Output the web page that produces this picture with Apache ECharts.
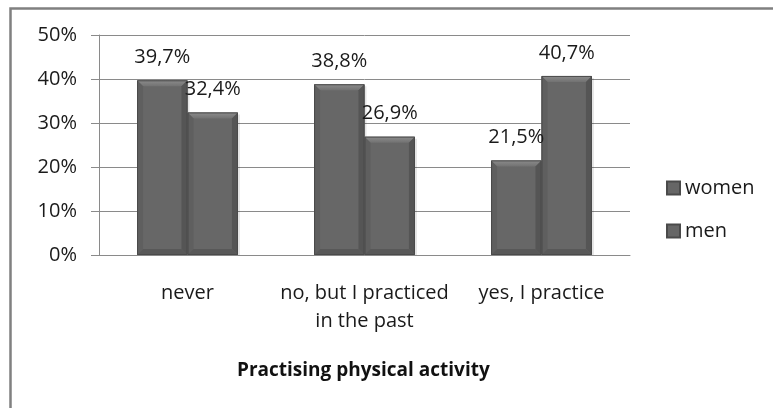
<!DOCTYPE html>
<html>
<head>
<meta charset="utf-8">
<script src="https://cdn.jsdelivr.net/npm/echarts@6/dist/echarts.min.js"></script>
<style>
  html, body { margin: 0; padding: 0; background: #fff; }
  #chart { width: 773px; height: 408px; }
</style>
</head>
<body>
<div id="chart"></div>
<script>
// Categories on the x axis
const categories = ['never', 'no, but I practiced\nin the past', 'yes, I practice'];
// Share of respondents per answer (%)
const women = [39.7, 38.8, 21.5];
const men = [32.4, 26.9, 40.7];
// Axis setup
const yTicks = [0, 10, 20, 30, 40, 50];
const chartTitle = 'Practising physical activity';

const FONT = 'Open Sans';
const CATEGORY_GAP = 0.43;   // fraction of each band left empty
const BEVEL = 6;             // bevel depth in px

function pct(v) {
  return v.toFixed(1).replace('.', ',') + '%';
}

// Bevelled bar: body, four bevel facets, outline, soft shadow and value label.
// slot = position of the series inside a category group (0 = left, 1 = right).
function bevelBar(slot) {
  return function (params, api) {
    const i = api.value(0);
    const v = api.value(1);
    const band = api.size([1, 0])[0];
    const bw = band * (1 - CATEGORY_GAP) / 2;
    const base = api.coord([i, 0]);
    const top = api.coord([i, v]);
    const x0 = base[0] - bw + slot * bw;
    const x1 = x0 + bw;
    const y0 = top[1];
    const y1 = base[1];
    const b = Math.min(BEVEL, (y1 - y0) / 2);
    return {
      type: 'group',
      children: [
        { type: 'rect', shape: { x: x0 + 2, y: y0 + 2, width: bw, height: y1 - y0 - 2 },
          style: { fill: 'rgba(0,0,0,0.10)' }, z2: 0 },
        { type: 'rect', shape: { x: x0, y: y0, width: bw, height: y1 - y0 },
          style: { fill: '#676767' }, z2: 1 },
        { type: 'polygon', shape: { points: [[x0, y0], [x1, y0], [x1 - b, y0 + b], [x0 + b, y0 + b]] },
          style: { fill: { type: 'linear', x: 0, y: 0, x2: 0, y2: 1,
            colorStops: [{ offset: 0, color: '#8c8c8c' }, { offset: 1, color: '#727272' }] } }, z2: 2 },
        { type: 'polygon', shape: { points: [[x0, y0], [x0 + b, y0 + b], [x0 + b, y1 - b], [x0, y1]] },
          style: { fill: '#5f5f5f' }, z2: 2 },
        { type: 'polygon', shape: { points: [[x1, y0], [x1 - b, y0 + b], [x1 - b, y1 - b], [x1, y1]] },
          style: { fill: '#555555' }, z2: 2 },
        { type: 'polygon', shape: { points: [[x0, y1], [x0 + b, y1 - b], [x1 - b, y1 - b], [x1, y1]] },
          style: { fill: '#585858' }, z2: 2 },
        { type: 'rect', shape: { x: x0 + 0.5, y: y0 + 0.5, width: bw - 1, height: y1 - y0 - 1 },
          style: { fill: null, stroke: '#4a4a4a', lineWidth: 1 }, z2: 3 },
        { type: 'text', z2: 100,
          style: { text: pct(v), x: (x0 + x1) / 2, y: y0 - 13,
            align: 'center', verticalAlign: 'bottom',
            fontFamily: FONT, fontSize: 20, fill: '#1a1a1a' } }
      ]
    };
  };
}

function series(name, values, slot) {
  return {
    name: name,
    type: 'custom',
    renderItem: bevelBar(slot),
    encode: { x: 0, y: 1 },
    data: values.map((v, i) => [i, v]),
    itemStyle: { color: '#666666', borderColor: '#4a4a4a', borderWidth: 1 },
    emphasis: { disabled: true },
    silent: true
  };
}

const chart = echarts.init(document.getElementById('chart'), null, { renderer: 'canvas' });
chart.setOption({
  animation: false,
  backgroundColor: '#ffffff',
  title: {
    text: chartTitle,
    left: 237,
    top: 361,
    padding: 0,
    textStyle: { fontFamily: FONT, fontSize: 19, fontWeight: 'bold', color: '#111' }
  },
  legend: {
    orient: 'vertical',
    left: 666,
    top: 178,
    padding: 0,
    itemGap: 23,
    itemWidth: 13,
    itemHeight: 13,
    icon: 'rect',
    textStyle: { fontFamily: FONT, fontSize: 20, color: '#1a1a1a' },
    data: ['women', 'men']
  },
  grid: { left: 99, right: 143, top: 35, bottom: 153, containLabel: false },
  xAxis: {
    type: 'category',
    data: categories,
    axisLine: { lineStyle: { color: '#8a8a8a', width: 1 } },
    axisTick: { show: false },
    axisLabel: {
      interval: 0,
      margin: 24,
      fontFamily: FONT,
      fontSize: 20,
      lineHeight: 28,
      color: '#1a1a1a'
    }
  },
  yAxis: {
    type: 'value',
    min: yTicks[0],
    max: yTicks[yTicks.length - 1],
    interval: 10,
    axisLine: { show: true, lineStyle: { color: '#8a8a8a', width: 1 } },
    axisTick: { show: true, inside: false, length: 8, lineStyle: { color: '#8a8a8a' } },
    splitLine: { lineStyle: { color: '#8a8a8a', width: 1 } },
    axisLabel: {
      margin: 22,
      formatter: v => v + '%',
      fontFamily: FONT,
      fontSize: 20,
      color: '#1a1a1a'
    }
  },
  series: [series('women', women, 0), series('men', men, 1)],
  graphic: [{
    type: 'polyline',
    shape: { points: [[10.5, 408], [10.5, 8.5], [773, 8.5]] },
    style: { stroke: '#808080', lineWidth: 2.5, fill: null },
    silent: true
  }]
});
</script>
</body>
</html>
